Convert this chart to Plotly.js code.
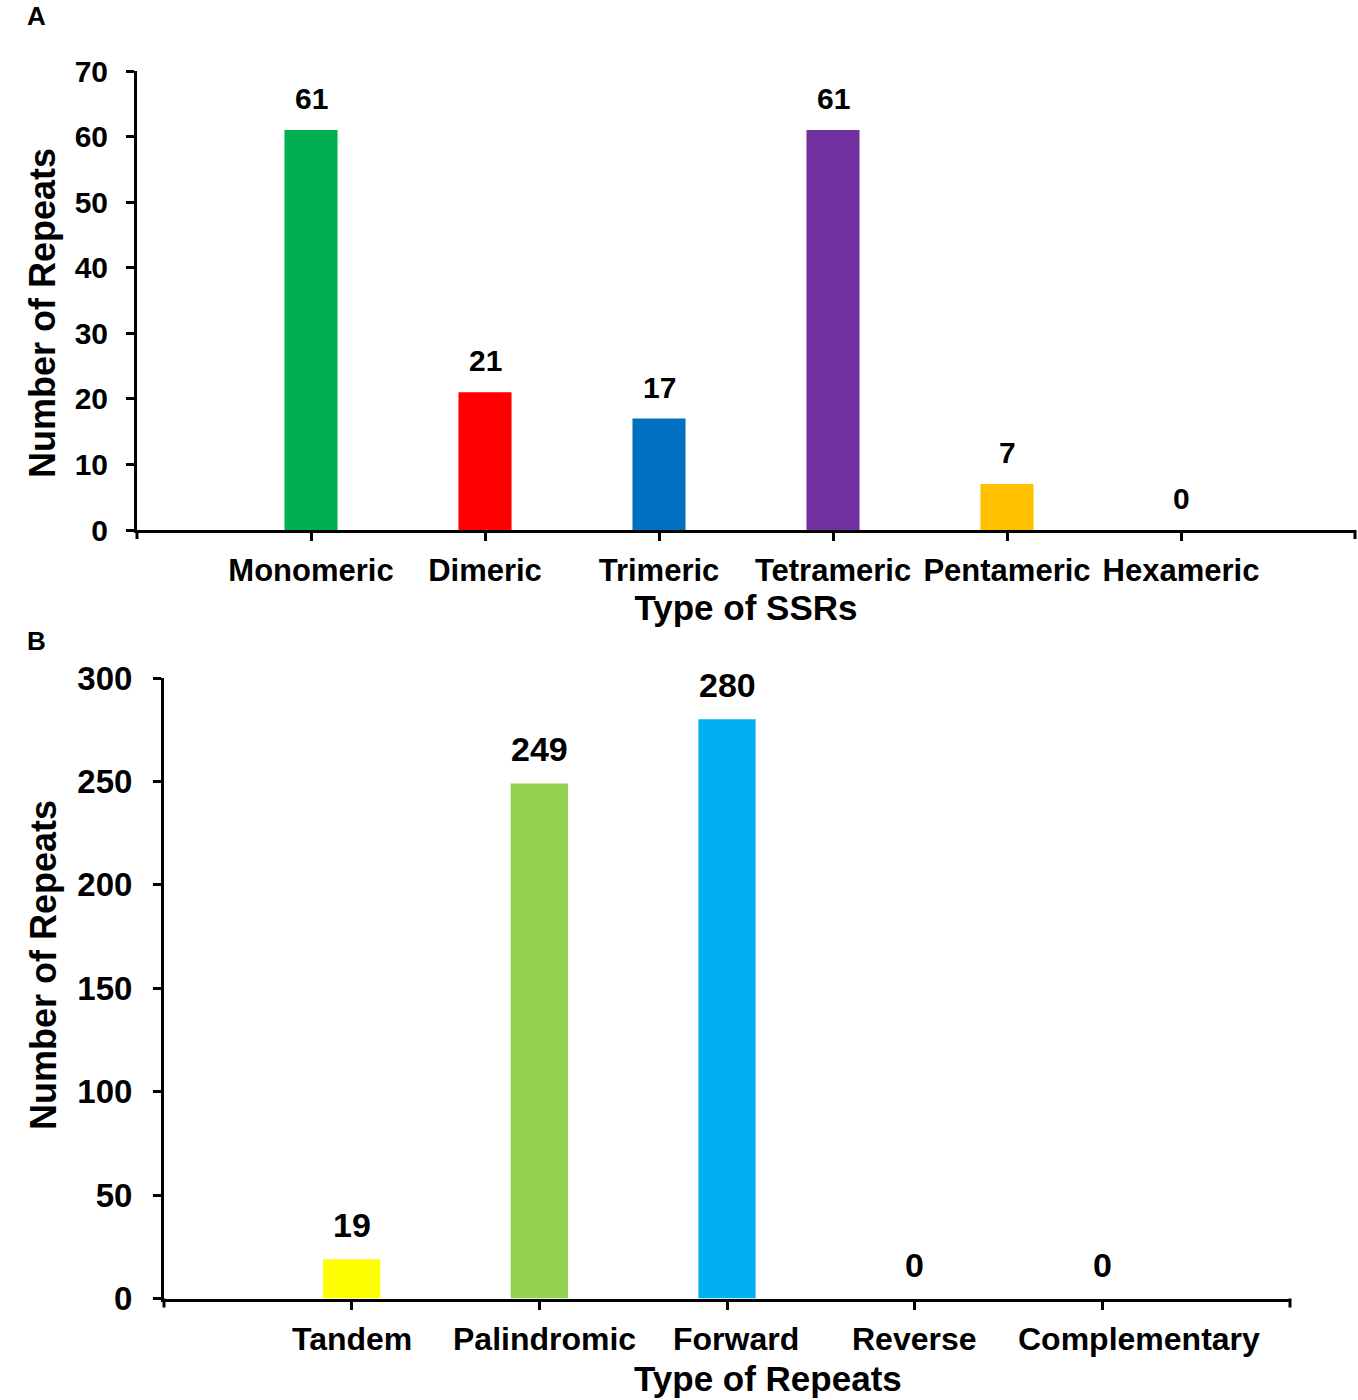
<!DOCTYPE html>
<html><head><meta charset="utf-8">
<script src="https://cdn.plot.ly/plotly-3.0.1.min.js"></script>
<style>html,body{margin:0;padding:0;background:#fff}#chart{width:1358px;height:1400px}</style>
</head><body><div id="chart"></div>
<script>
// Panel A data
const ssrTypes = ['Monomeric', 'Dimeric', 'Trimeric', 'Tetrameric', 'Pentameric', 'Hexameric'];
const ssrCounts = [61, 21, 17, 61, 7, 0];
const ssrColors = ['#00B050', '#FF0000', '#0070C0', '#7030A0', '#FFC000', '#A5A5A5'];
const ssrTicks = [0, 10, 20, 30, 40, 50, 60, 70];
// Panel B data
const repeatTypes = ['Tandem', 'Palindromic', 'Forward', 'Reverse', 'Complementary'];
const repeatCounts = [19, 249, 280, 0, 0];
const repeatColors = ['#FFFF00', '#92D050', '#00B0F0', '#A5A5A5', '#A5A5A5'];
const repeatTicks = [0, 50, 100, 150, 200, 250, 300];

const FONT = 'Liberation Sans, Arial, sans-serif';
const W = 1358, H = 1400;
const bold = (s) => ({family: FONT, size: s, color: '#000', weight: 'bold'});

const traces = [
  {type: 'bar', x: ssrTypes, y: ssrCounts, marker: {color: ssrColors, line: {width: 0}},
   xaxis: 'x', yaxis: 'y', hoverinfo: 'x+y', showlegend: false},
  {type: 'bar', x: repeatTypes, y: repeatCounts, marker: {color: repeatColors, line: {width: 0}},
   xaxis: 'x2', yaxis: 'y2', hoverinfo: 'x+y', showlegend: false}
];

// style: pixel nudges of panel-B category labels (as in the original figure)
const repeatLabelNudge = [0, 5, 9, 0, 37];

const annotations = [];
ssrTypes.forEach((c, i) => annotations.push({xref: 'x', yref: 'y', x: c, y: ssrCounts[i],
  text: String(ssrCounts[i]), showarrow: false, yanchor: 'bottom', yshift: 13, font: bold(30)}));
repeatTypes.forEach((c, i) => annotations.push({xref: 'x2', yref: 'y2', x: c, y: repeatCounts[i],
  text: String(repeatCounts[i]), showarrow: false, yanchor: 'bottom', yshift: 13, font: bold(34)}));
repeatTypes.forEach((c, i) => annotations.push({xref: 'x2', yref: 'paper', x: c, y: 1 - 1339 / H,
  xshift: repeatLabelNudge[i], text: c, showarrow: false, xanchor: 'center', yanchor: 'middle',
  font: bold(32)}));
annotations.push({xref: 'paper', yref: 'paper', x: 36 / W, y: 1 - 16 / H, text: 'A',
  showarrow: false, xanchor: 'center', yanchor: 'middle', font: bold(26)});
annotations.push({xref: 'paper', yref: 'paper', x: 36 / W, y: 1 - 641 / H, text: 'B',
  showarrow: false, xanchor: 'center', yanchor: 'middle', font: bold(26)});
annotations.push({xref: 'paper', yref: 'paper', x: 768 / W, y: 1 - 1378 / H, text: 'Type of Repeats',
  showarrow: false, xanchor: 'center', yanchor: 'middle', font: bold(35)});
annotations.push({xref: 'paper', yref: 'paper', x: 43 / W, y: 1 - 313 / H, text: 'Number of Repeats',
  showarrow: false, textangle: -90, xanchor: 'center', yanchor: 'middle', font: bold(36)});
annotations.push({xref: 'paper', yref: 'paper', x: 43 / W, y: 1 - 965 / H, text: 'Number of Repeats',
  showarrow: false, textangle: -90, xanchor: 'center', yanchor: 'middle', font: bold(36)});

// end ticks at the axis edges (Excel-style category axis)
const edgeTick = (xr, yr, xpos) => ({type: 'line', xref: xr + ' domain', yref: yr + ' domain',
  x0: xpos, x1: xpos, ysizemode: 'pixel', yanchor: 0, y0: 0, y1: -9,
  line: {color: '#000', width: 3}});
const shapes = [edgeTick('x', 'y', 0), edgeTick('x', 'y', 1), edgeTick('x2', 'y2', 0), edgeTick('x2', 'y2', 1)];

const axisCommon = {showline: true, linecolor: '#000', linewidth: 3, ticks: 'outside',
  tickcolor: '#000', tickwidth: 3, ticklen: 8, showgrid: false, zeroline: false, fixedrange: true};

const layout = {
  width: W, height: H,
  margin: {l: 0, r: 0, t: 0, b: 0},
  paper_bgcolor: '#fff', plot_bgcolor: '#fff',
  bargap: 0.695,
  font: {family: FONT, color: '#000'},
  xaxis: Object.assign({}, axisCommon, {
    domain: [137 / W, 1355 / W], anchor: 'y', type: 'category', range: [-1, 6],
    tickfont: bold(31), ticklabelstandoff: 3, tickangle: 0,
    title: {text: 'Type of SSRs', font: bold(35), standoff: 2}
  }),
  yaxis: Object.assign({}, axisCommon, {
    domain: [1 - 530 / H, 1 - 71 / H], anchor: 'x', range: [0, 70],
    tickmode: 'array', tickvals: ssrTicks, tickfont: bold(30), ticklabelstandoff: 12
  }),
  xaxis2: Object.assign({}, axisCommon, {
    domain: [164 / W, 1290 / W], anchor: 'y2', type: 'category', range: [-1, 5],
    showticklabels: false
  }),
  yaxis2: Object.assign({}, axisCommon, {
    domain: [1 - 1298.5 / H, 1 - 678 / H], anchor: 'x2', range: [0, 300],
    tickmode: 'array', tickvals: repeatTicks, tickfont: bold(33), ticklabelstandoff: 14
  }),
  annotations: annotations,
  shapes: shapes
};

Plotly.newPlot('chart', traces, layout, {displayModeBar: false, staticPlot: true});
</script>
</body></html>
